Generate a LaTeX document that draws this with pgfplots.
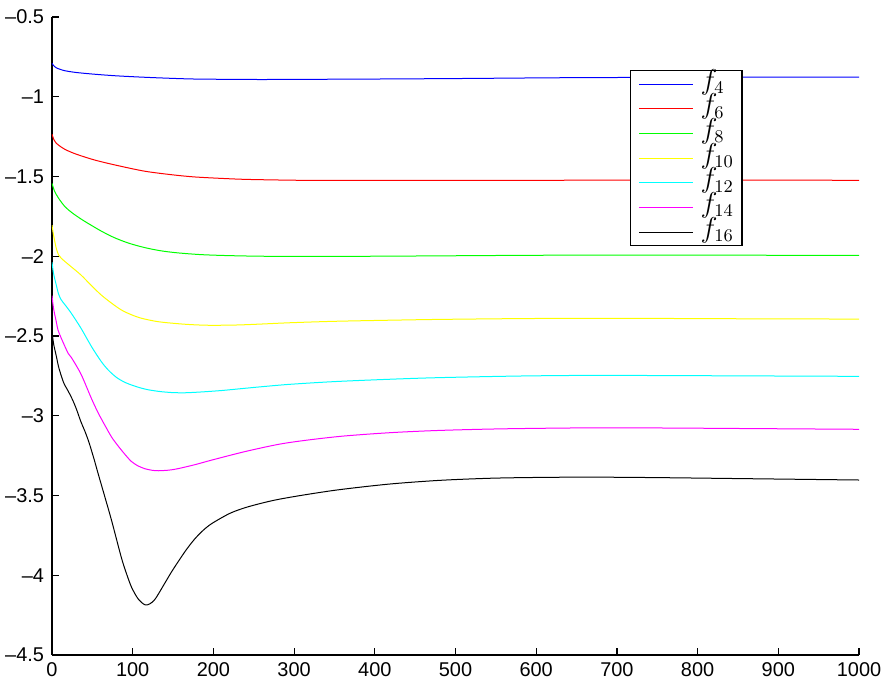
\documentclass[border=0pt]{standalone}
\usepackage[no-math]{fontspec}
\usepackage{pgfplots}
\pgfplotsset{compat=1.18}
\usetikzlibrary{calc}
\newfontfamily\helv[Ligatures=TeX]{Liberation Sans}
\definecolor{mcyan}{rgb}{0,1,1}
\definecolor{mmagenta}{rgb}{1,0,1}
\definecolor{myellow}{rgb}{1,1,0}
\definecolor{mgreen}{rgb}{0,1,0}
\begin{document}
\begin{tikzpicture}
\begin{axis}[
  scale only axis,
  width=403.5bp, height=319bp,
  xmin=0, xmax=1000, ymin=-4.5, ymax=-0.5,
  axis lines=left,
  axis line style={-, line width=0.75bp},
  tick align=inside,
  major tick length=3.5bp,
  tick style={line width=0.6bp, black},
  xtick={0,100,...,1000},
  ytick={-4.5,-4,-3.5,-3,-2.5,-2,-1.5,-1,-0.5},
  yticklabels={\textendash4.5,\textendash4,\textendash3.5,\textendash3,\textendash2.5,\textendash2,\textendash1.5,\textendash1,\textendash0.5},
  ticklabel style={font=\helv\fontsize{10}{12}\selectfont},
  /pgf/number format/assume math mode=true,
  /pgf/number format/1000 sep={},
  xticklabel style={yshift=-0.5bp},
  yticklabel style={xshift=-0.5bp},
  legend style={at={(0.716,0.917)}, anchor=north west, draw=black, line width=0.75bp,
    font=\fontsize{13.5}{15}\selectfont, inner xsep=4bp, inner ysep=0.5bp,
    nodes={inner sep=0pt, text height=8.7bp, text depth=3.65bp},
    /tikz/every odd column/.append style={column sep=3.5bp}},
  legend cell align=left,
  legend image code/.code={\draw[#1, line width=0.5bp] (0bp,0bp) -- (27bp,0bp);},
  every axis plot/.append style={line width=0.5bp, smooth},
]
\addplot[blue] coordinates {(0,-0.790) (2,-0.805) (5,-0.818) (10,-0.828) (16,-0.837) (30,-0.848) (53,-0.859) (80,-0.869) (115,-0.878) (150,-0.885) (177,-0.889) (220,-0.891) (260,-0.892) (313,-0.891) (400,-0.889) (500,-0.886) (600,-0.882) (667,-0.880) (800,-0.878) (900,-0.877) (1000,-0.877)};
\addlegendentry{$f_{4}$}
\addplot[red] coordinates {(0,-1.235) (2,-1.265) (5,-1.29) (8,-1.303) (16,-1.33) (30,-1.36) (53,-1.397) (80,-1.43) (115,-1.467) (150,-1.49) (177,-1.503) (210,-1.512) (239,-1.518) (280,-1.522) (313,-1.524) (400,-1.525) (500,-1.525) (600,-1.524) (700,-1.523) (800,-1.523) (900,-1.523) (1000,-1.524)};
\addlegendentry{$f_{6}$}
\addplot[mgreen] coordinates {(0,-1.543) (3,-1.59) (8,-1.635) (16,-1.689) (25,-1.728) (37,-1.77) (50,-1.81) (62,-1.845) (77,-1.883) (95,-1.918) (115,-1.946) (135,-1.966) (156,-1.979) (185,-1.99) (218,-1.996) (260,-2.0) (313,-2.001) (400,-2.0) (500,-1.997) (600,-1.994) (700,-1.993) (800,-1.993) (900,-1.994) (1000,-1.995)};
\addlegendentry{$f_{8}$}
\addplot[myellow] coordinates {(0,-1.805) (2,-1.87) (5.3,-1.95) (8,-1.99) (11.5,-2.013) (20,-2.05) (36,-2.118) (48,-2.18) (61,-2.243) (74,-2.295) (86,-2.337) (98,-2.366) (111,-2.389) (131,-2.410) (156,-2.423) (177,-2.430) (198,-2.433) (230,-2.431) (260,-2.425) (295,-2.417) (350,-2.408) (420,-2.401) (481,-2.396) (580,-2.391) (667,-2.389) (750,-2.390) (850,-2.392) (1000,-2.394)};
\addlegendentry{$f_{10}$}
\addplot[mcyan] coordinates {(0,-2.038) (2,-2.11) (5.3,-2.18) (8,-2.235) (11.5,-2.274) (17,-2.31) (24,-2.358) (36,-2.452) (49,-2.567) (61,-2.66) (70,-2.715) (80,-2.76) (90,-2.79) (100,-2.81) (110,-2.826) (120,-2.838) (135,-2.849) (150,-2.855) (165,-2.856) (185,-2.851) (210,-2.842) (235,-2.83) (260,-2.818) (295,-2.803) (350,-2.786) (420,-2.771) (481,-2.761) (580,-2.751) (667,-2.747) (750,-2.748) (850,-2.750) (1000,-2.753)};
\addlegendentry{$f_{12}$}
\addplot[mmagenta] coordinates {(0,-2.247) (2,-2.33) (5.3,-2.41) (7.4,-2.462) (11.5,-2.514) (20,-2.609) (24,-2.635) (36,-2.74) (48.7,-2.89) (57,-2.98) (65,-3.055) (74,-3.135) (82,-3.19) (90,-3.24) (98,-3.285) (106,-3.313) (115,-3.332) (124,-3.342) (132,-3.345) (145,-3.341) (156,-3.332) (177,-3.307) (198,-3.278) (239,-3.225) (280,-3.18) (313,-3.155) (360,-3.128) (420,-3.106) (481,-3.092) (560,-3.082) (667,-3.076) (760,-3.077) (850,-3.080) (1000,-3.085)};
\addlegendentry{$f_{14}$}
\addplot[black] coordinates {(0,-2.47) (2,-2.55) (5.3,-2.625) (8,-2.69) (11.5,-2.75) (15,-2.80) (20,-2.845) (25,-2.895) (30,-2.955) (36,-3.04) (41,-3.1) (46,-3.17) (52,-3.27) (57,-3.36) (65,-3.5) (74,-3.66) (86,-3.89) (93,-4.0) (99,-4.08) (107,-4.15) (115,-4.185) (121,-4.18) (128,-4.148) (140,-4.048) (148,-3.98) (157,-3.91) (167,-3.836) (177,-3.772) (187,-3.72) (198,-3.676) (220,-3.613) (239,-3.577) (260,-3.548) (280,-3.525) (313,-3.496) (357,-3.463) (419,-3.428) (481,-3.405) (543,-3.392) (600,-3.387) (667,-3.385) (750,-3.388) (850,-3.394) (1000,-3.403)};
\addlegendentry{$f_{16}$}
\end{axis}
\pgfresetboundingbox
\path[use as bounding box] ($(current axis.south west)+(-26bp,-13.5bp)$) rectangle ($(current axis.north east)+(12bp,8.5bp)$);
\end{tikzpicture}
\end{document}
